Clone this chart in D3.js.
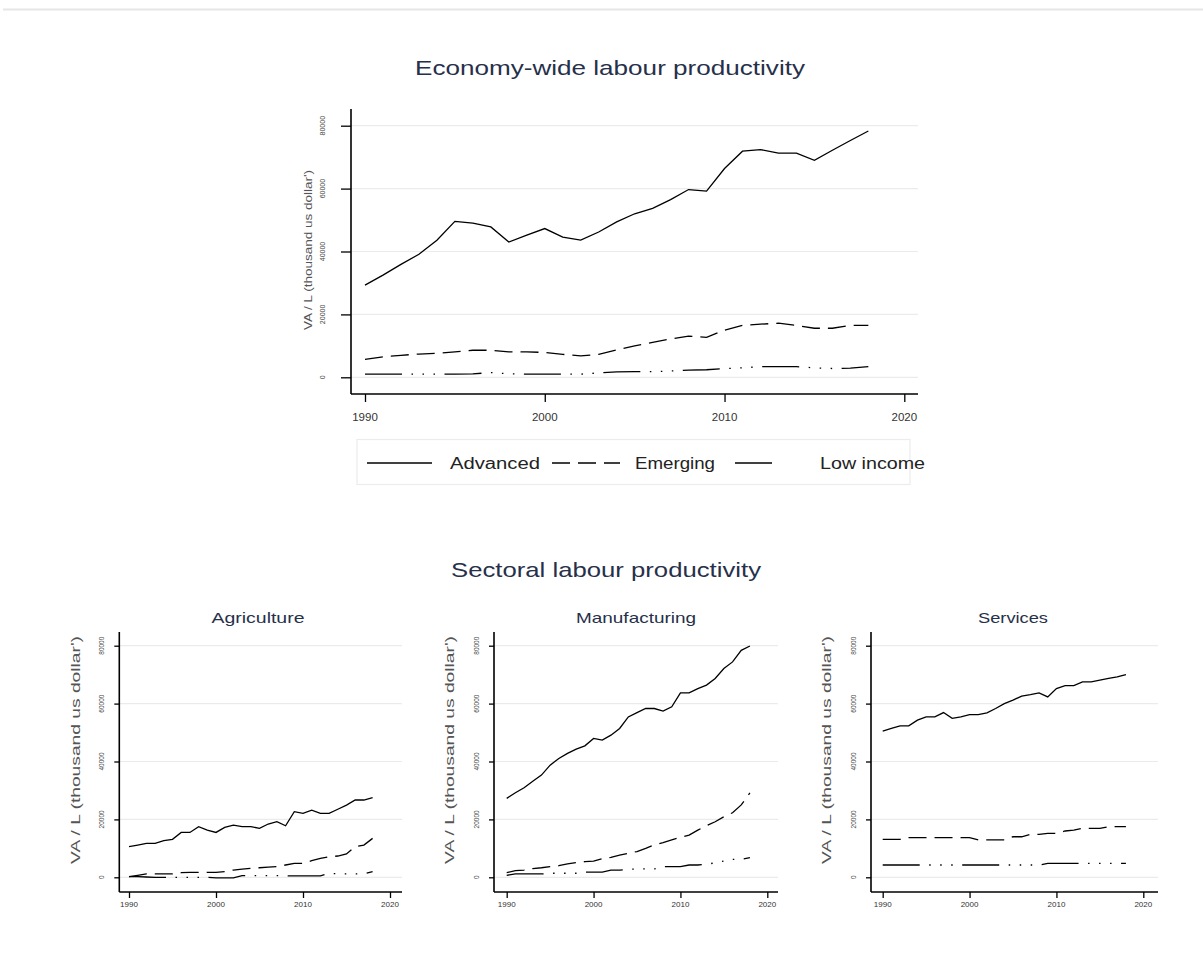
<!DOCTYPE html>
<html>
<head>
<meta charset="utf-8">
<script src="https://cdn.jsdelivr.net/npm/d3@7"></script>
<style>
  html, body { margin: 0; padding: 0; background: #fff; }
  svg { display: block; font-family: "Liberation Sans", Arial, sans-serif; }
</style>
</head>
<body>
<svg id="chart" width="1203" height="967"></svg>
<script>
// ---------------- DATA ----------------
const years = [1990,1991,1992,1993,1994,1995,1996,1997,1998,1999,2000,2001,2002,2003,2004,2005,2006,2007,2008,2009,2010,2011,2012,2013,2014,2015,2016,2017,2018];
const seriesNames = ["Advanced", "Emerging", "Low income"];
const xTicks = [1990, 2000, 2010, 2020];
const yTicks = [0, 20000, 40000, 60000, 80000];

// Economy-wide
const advancedTotal = [29300,32500,35900,39100,43600,49600,49000,47800,43000,45200,47300,44600,43600,46200,49400,52000,53700,56500,59700,59200,66400,71900,72400,71300,71300,69000,72200,75300,78300];
const emergingTotal = [5700,6500,7000,7400,7600,8100,8600,8600,8100,8100,7900,7300,6800,7300,8700,10000,11100,12200,13100,12700,15000,16500,16900,17200,16500,15600,15600,16500,16500];
const lowTotal      = [1000,1000,1000,1000,1000,1000,1100,1500,1100,1000,1000,1000,1000,1400,1700,1800,1800,2000,2300,2400,2800,3000,3400,3400,3400,3000,2800,2900,3400];

// Agriculture
const advancedAgri = [10600,11150,11700,11700,12650,13100,15500,15500,17500,16300,15500,17250,18000,17500,17500,16900,18400,19200,17800,22650,22100,23200,22100,22100,23500,24950,26700,26700,27500];
const emergingAgri = [200,700,1150,1150,1150,1150,1600,1700,1700,1700,1700,1950,2500,2800,3100,3300,3500,3700,4250,4800,4800,5750,6550,7100,7350,8050,10600,11150,13450];
const lowAgri      = [200,200,100,0,0,0,0,0,0,0,-200,-200,-200,600,600,600,600,600,500,500,500,500,500,1400,1200,1200,1200,1200,2000];

// Manufacturing
const advancedManu = [27250,29200,30950,33200,35300,38750,41050,42800,44300,45400,47950,47400,49100,51400,55400,56900,58300,58300,57400,58900,63700,63700,65200,66400,68700,72100,74400,78400,79900];
const emergingManu = [1600,2300,2500,3000,3300,3700,4000,4600,5100,5400,5600,6400,6900,7700,8300,8900,10000,11200,12000,12900,13800,14600,16300,17800,19200,20900,22300,25000,29200];
const lowManu      = [700,1150,1150,1150,1150,1400,1400,1400,1400,1800,1800,1800,2500,2500,2700,2900,2900,2900,3700,3700,3700,4250,4250,4500,5000,5600,6200,6200,6800];

// Services
const advancedServ = [50500,51400,52300,52300,54300,55400,55400,56900,54900,55400,56200,56200,56800,58300,60000,61200,62600,63100,63700,62300,65200,66200,66200,67500,67500,68100,68700,69200,70000];
const emergingServ = [13100,13100,13100,13700,13700,13700,13700,13700,13700,13700,13700,12900,12900,12900,12900,14000,14000,14800,14800,15200,15200,16000,16300,16900,16900,16900,17500,17500,17500];
const lowServ      = [4250,4250,4250,4250,4250,4250,4250,4250,4250,4250,4250,4250,4250,4250,4250,4250,4250,4250,4250,4800,4800,4800,4800,4800,4800,4800,4800,4800,4800];

const yTitle = "VA / L (thousand us dollar')";

// ---------------- STYLE ----------------
const dashes = ["none", "18,8", "37,9.5,1.5,9.5,1.5,9.5,1.5,9.5"];
const titleColor = "#27304a";
const axisTitleColor = "#555";

const svg = d3.select("#chart");

// top page border
svg.append("line").attr("x1", 3).attr("x2", 1203).attr("y1", 9.5).attr("y2", 9.5)
  .attr("stroke", "#e6e6e6").attr("stroke-width", 2);

function panel(cfg, seriesList) {
  const g = svg.append("g");
  const x = d3.scaleLinear().domain([1990, 2020]).range([cfg.x1990, cfg.x2020]);
  const y = d3.scaleLinear().domain([0, 80000]).range([cfg.y0, cfg.y80]);

  // gridlines
  g.append("g").selectAll("line").data(yTicks).join("line")
    .attr("x1", cfg.left).attr("x2", cfg.right)
    .attr("y1", d => y(d)).attr("y2", d => y(d))
    .attr("stroke", "#ebebeb").attr("stroke-width", 1.2);

  // y axis
  const ya = g.append("g").attr("transform", `translate(${cfg.left},0)`)
    .call(d3.axisLeft(y).tickValues(yTicks).tickSize(cfg.yTick).tickFormat(""));
  ya.select(".domain").remove();
  ya.selectAll("line").attr("stroke", "#000").attr("stroke-width", 1.3);
  g.append("line").attr("x1", cfg.left).attr("x2", cfg.left).attr("y1", cfg.top).attr("y2", cfg.bottom)
    .attr("stroke", "#000").attr("stroke-width", 1.6);
  g.append("g").selectAll("text").data(yTicks).join("text")
    .attr("transform", d => `translate(${cfg.left - cfg.yLabOff},${y(d)}) rotate(-90)`)
    .attr("text-anchor", "middle").attr("dy", "0.35em")
    .attr("font-size", cfg.yLabSize).attr("fill", "#444")
    .text(d => d);

  // x axis
  const xa = g.append("g").attr("transform", `translate(0,${cfg.bottom})`)
    .call(d3.axisBottom(x).tickValues(xTicks).tickSize(cfg.xTick).tickFormat(""));
  xa.select(".domain").remove();
  xa.selectAll("line").attr("stroke", "#000").attr("stroke-width", 1.3);
  g.append("line").attr("x1", cfg.left).attr("x2", cfg.right).attr("y1", cfg.bottom).attr("y2", cfg.bottom)
    .attr("stroke", "#000").attr("stroke-width", 1.6);
  g.append("g").selectAll("text").data(xTicks).join("text")
    .attr("x", d => x(d)).attr("y", cfg.bottom + cfg.xLabOff)
    .attr("text-anchor", "middle").attr("dy", "0.35em")
    .attr("font-size", cfg.xLabSize).attr("fill", "#333")
    .text(d => d);

  // y axis title
  g.append("text")
    .attr("transform", `translate(${cfg.left - cfg.yTitleOff},${cfg.yTitleY}) rotate(-90)`)
    .attr("text-anchor", "middle").attr("dy", "0.35em")
    .attr("font-size", cfg.yTitleSize).attr("fill", axisTitleColor)
    .attr("textLength", cfg.yTitleLen).attr("lengthAdjust", "spacingAndGlyphs")
    .text(yTitle);

  // panel title
  if (cfg.title) {
    g.append("text").attr("x", cfg.titleX).attr("y", cfg.titleY)
      .attr("text-anchor", "middle").attr("dy", "0.35em")
      .attr("font-size", cfg.titleSize).attr("fill", titleColor)
      .attr("textLength", cfg.titleLen).attr("lengthAdjust", "spacingAndGlyphs")
      .text(cfg.title);
  }

  // series
  const line = d3.line().x((d, i) => x(years[i])).y(d => y(d));
  seriesList.forEach((vals, k) => {
    g.append("path").datum(vals).attr("d", line)
      .attr("fill", "none").attr("stroke", "#000").attr("stroke-width", 1.3)
      .attr("stroke-dasharray", dashes[k]);
  });
}

// Main title
svg.append("text").attr("x", 610).attr("y", 68).attr("text-anchor", "middle").attr("dy", "0.35em")
  .attr("font-size", 21).attr("fill", titleColor)
  .attr("textLength", 390).attr("lengthAdjust", "spacingAndGlyphs")
  .text("Economy-wide labour productivity");

panel({x1990: 365, x2020: 904.3, left: 351, right: 918, y0: 377.3, y80: 125.7, top: 109, bottom: 394,
       yTick: 10, xTick: 8, yLabOff: 28, yLabSize: 7, xLabOff: 23, xLabSize: 11.5,
       yTitleOff: 43, yTitleY: 250, yTitleSize: 11.5, yTitleLen: 160},
      [advancedTotal, emergingTotal, lowTotal]);

// Legend
const lg = svg.append("g");
lg.append("rect").attr("x", 357).attr("y", 439.5).attr("width", 553).attr("height", 45)
  .attr("fill", "#fff").attr("stroke", "#ececec").attr("stroke-width", 1.2);
const legItems = [
  {x1: 367, x2: 432, tx: 450, tl: 90},
  {x1: 552, x2: 620, tx: 635, tl: 80},
  {x1: 735, x2: 775, tx: 820, tl: 105}
];
legItems.forEach((it, k) => {
  lg.append("line").attr("x1", it.x1).attr("x2", it.x2).attr("y1", 463).attr("y2", 463)
    .attr("stroke", "#000").attr("stroke-width", 1.3).attr("stroke-dasharray", dashes[k]);
  lg.append("text").attr("x", it.tx).attr("y", 463).attr("dy", "0.35em")
    .attr("font-size", 16).attr("fill", "#222")
    .attr("textLength", it.tl).attr("lengthAdjust", "spacingAndGlyphs")
    .text(seriesNames[k]);
});

// Sectoral title
svg.append("text").attr("x", 606).attr("y", 570).attr("text-anchor", "middle").attr("dy", "0.35em")
  .attr("font-size", 21).attr("fill", titleColor)
  .attr("textLength", 310).attr("lengthAdjust", "spacingAndGlyphs")
  .text("Sectoral labour productivity");

const small = {y0: 877.3, y80: 645.7, top: 632, bottom: 892,
  yTick: 5, xTick: 6, yLabOff: 17.5, yLabSize: 6.5, xLabOff: 12, xLabSize: 8,
  yTitleOff: 44, yTitleY: 750, yTitleSize: 12, yTitleLen: 228,
  titleY: 618, titleSize: 14.5, titleLen: 93};

panel(Object.assign({}, small, {x1990: 129, x2020: 390, left: 119.3, right: 402, title: "Agriculture", titleX: 258}),
      [advancedAgri, emergingAgri, lowAgri]);
panel(Object.assign({}, small, {x1990: 506.7, x2020: 767.3, left: 494, right: 778, title: "Manufacturing", titleX: 636, titleLen: 120}),
      [advancedManu, emergingManu, lowManu]);
panel(Object.assign({}, small, {x1990: 882.7, x2020: 1143.3, left: 871, right: 1158, title: "Services", titleX: 1013, titleLen: 70}),
      [advancedServ, emergingServ, lowServ]);
</script>
</body>
</html>
